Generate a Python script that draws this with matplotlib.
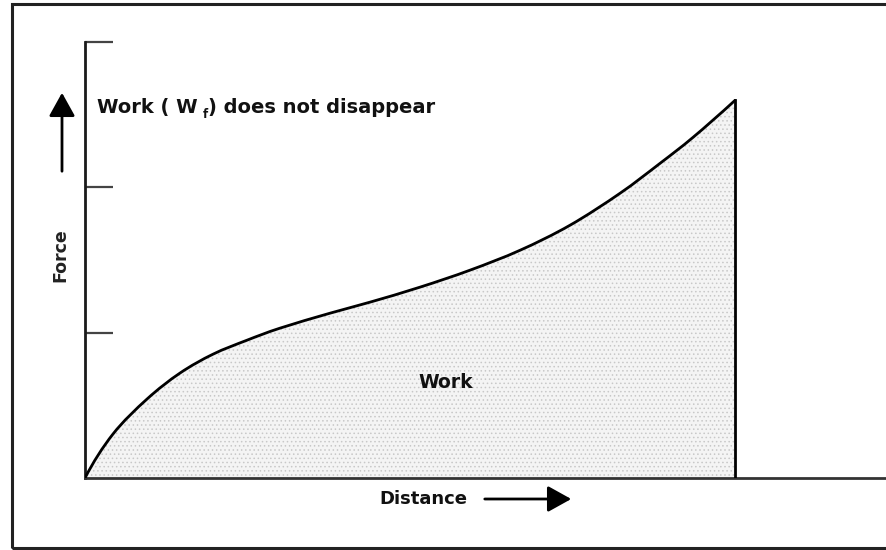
import matplotlib
matplotlib.use("Agg")
import matplotlib.pyplot as plt
from matplotlib.patches import Rectangle, PathPatch, FancyArrowPatch
from matplotlib.path import Path

plt.rcParams['font.family'] = ['DejaVu Sans']
plt.rcParams['hatch.linewidth'] = 0.6
plt.rcParams['hatch.color'] = '#c4c4c4'

# Force–distance curve (arbitrary units; y ticks at 1, 2, 3)
distance = [0.0, 0.192, 0.426, 0.653, 0.880, 1.113, 1.340, 1.684, 1.959,
            2.302, 2.646, 2.990, 3.333, 3.677, 3.952, 4.179, 4.467]
force = [0.0, 0.302, 0.543, 0.722, 0.852, 0.948, 1.031, 1.134, 1.210,
         1.313, 1.430, 1.567, 1.739, 1.959, 2.165, 2.344, 2.598]
y_ticks = [1, 2, 3]

W, H = 887, 550
fig = plt.figure(figsize=(W / 100, H / 100), dpi=100)
ax = fig.add_axes([85 / W, (H - 478) / H, (W - 85) / W, (478 - 42) / H])
ax.set_xlim(0, (W - 85) / 145.5)
ax.set_ylim(0, 3)

for s in ['top', 'right']:
    ax.spines[s].set_visible(False)
ax.spines['left'].set_linewidth(2.0)
ax.spines['left'].set_color('#1a1a1a')
ax.spines['bottom'].set_linewidth(2.0)
ax.spines['bottom'].set_color('#333333')

ax.set_xticks([])
ax.set_yticks(y_ticks)
ax.set_yticklabels([])
ax.tick_params(axis='y', direction='in', length=20, width=1.6, color='#444444')

# Smooth path through the read points (Catmull-Rom tangents, cubic Bezier segments)
pts = list(zip(distance, force))
n = len(pts)
tang = []
for i in range(n):
    if 0 < i < n - 1:
        tang.append(((pts[i + 1][0] - pts[i - 1][0]) / 2, (pts[i + 1][1] - pts[i - 1][1]) / 2))
    else:
        tang.append(None)
# parabolic end conditions
tang[0] = (2 * (pts[1][0] - pts[0][0]) - tang[1][0], 2 * (pts[1][1] - pts[0][1]) - tang[1][1])
tang[-1] = (2 * (pts[-1][0] - pts[-2][0]) - tang[-2][0], 2 * (pts[-1][1] - pts[-2][1]) - tang[-2][1])
verts = [pts[0]]
codes = [Path.MOVETO]
for i in range(n - 1):
    p1, p2 = pts[i], pts[i + 1]
    c1 = (p1[0] + tang[i][0] / 3, p1[1] + tang[i][1] / 3)
    c2 = (p2[0] - tang[i + 1][0] / 3, p2[1] - tang[i + 1][1] / 3)
    verts += [c1, c2, p2]
    codes += [Path.CURVE4] * 3

fill_path = Path(verts + [(distance[-1], 0), (0, 0), (0, 0)],
                 codes + [Path.LINETO, Path.LINETO, Path.CLOSEPOLY])
ax.add_patch(PathPatch(fill_path, facecolor='#f4f4f4', edgecolor='#c8c8c8',
                       hatch='....', linewidth=0, zorder=1))
ax.add_patch(PathPatch(Path(verts, codes), fill=False, edgecolor='black', lw=2.0,
                       zorder=3, capstyle='round'))
ax.plot([distance[-1], distance[-1]], [0, force[-1]], color='black', lw=2.0, zorder=3)

# Texts
tc = '#111111'
t1 = fig.text(97 / W, 1 - 113 / H, "Work ( W", fontsize=14, fontweight='bold',
              va='baseline', ha='left', color=tc)
t2 = ax.annotate("f", xy=(1, 0), xycoords=t1, xytext=(4, -3), textcoords='offset points',
                 fontsize=8.5, fontweight='bold', va='bottom', ha='left', color=tc)
ax.annotate(") does not disappear", xy=(1, 0), xycoords=(t2, t1), xytext=(0, 0),
            textcoords='offset points', fontsize=14, fontweight='bold',
            va='bottom', ha='left', color=tc)

fig.text(446 / W, 1 - 383 / H, "Work", fontsize=13.5, fontweight='bold',
         ha='center', va='center', color=tc)
fig.text(60 / W, 1 - 255 / H, "Force", fontsize=12.5, fontweight='bold',
         rotation=90, ha='center', va='center', color='#222222')
fig.text(379 / W, 1 - 499 / H, "Distance", fontsize=13, fontweight='bold',
         ha='left', va='center', color=tc)

# Arrows
fig.add_artist(FancyArrowPatch(
    (482 / W, 1 - 499 / H), (574 / W, 1 - 499 / H), transform=fig.transFigure,
    arrowstyle='-|>,head_length=9,head_width=5', mutation_scale=1.6, lw=2, color='black'))
fig.add_artist(FancyArrowPatch(
    (62 / W, 1 - 174 / H), (62 / W, 1 - 90 / H), transform=fig.transFigure,
    arrowstyle='-|>,head_length=9,head_width=5', mutation_scale=1.6, lw=2, color='black'))

# Outer frame
fig.add_artist(Rectangle((12 / W, 2 / H), 2.0, (548 - 4) / H, transform=fig.transFigure,
                         fill=False, lw=2.2, edgecolor='#222222'))

fig.savefig("out.png", dpi=100)
